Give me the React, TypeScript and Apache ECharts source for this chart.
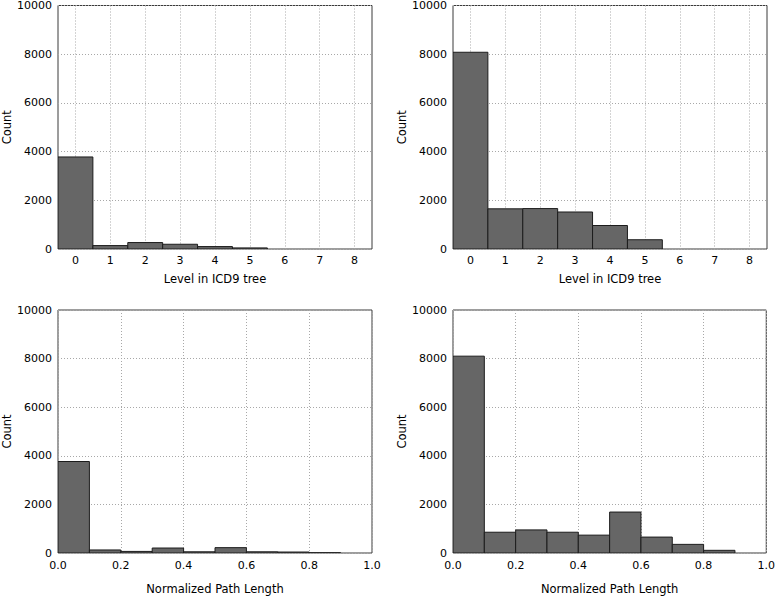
import React, { useEffect, useRef } from "react";
import * as echarts from "echarts";

// ---- data ----
const levels = [0, 1, 2, 3, 4, 5, 6, 7, 8];
const levelCountsLeft = [3780, 140, 265, 195, 100, 45, 0, 0, 0];
const levelCountsRight = [8080, 1650, 1660, 1520, 965, 380, 0, 0, 0];
const pathBinStarts = [0, 0.1, 0.2, 0.3, 0.4, 0.5, 0.6, 0.7, 0.8, 0.9];
const pathBinWidth = 0.1;
const pathCountsLeft = [3765, 125, 65, 205, 50, 220, 50, 40, 10, 0];
const pathCountsRight = [8100, 855, 950, 855, 735, 1685, 655, 355, 110, 0];
const yTicks = [0, 2000, 4000, 6000, 8000, 10000];
const levelAxisTitle = "Level in ICD9 tree";
const pathAxisTitle = "Normalized Path Length";
const countTitle = "Count";

const FONT = "DejaVu Sans";

const renderBar = (params: any, api: any) => {
  const x0 = api.value(0);
  const x1 = api.value(1);
  const y = api.value(2);
  if (!(y > 0)) return null;
  const p0 = api.coord([x0, y]);
  const p1 = api.coord([x1, 0]);
  return {
    type: "rect",
    shape: { x: p0[0], y: p0[1], width: p1[0] - p0[0], height: p1[1] - p0[1] },
    style: { fill: "#666666", stroke: "#1c1c1c", lineWidth: 1 },
  };
};

const grids = [
  { left: 58, top: 5, width: 314, height: 244 },
  { left: 453, top: 5, width: 314, height: 244 },
  { left: 58, top: 310, width: 314, height: 243 },
  { left: 453, top: 310, width: 315, height: 243 },
];

const splitLineStyle = { show: true, lineStyle: { color: "#a8a8a8", type: [1, 2] as any, width: 1 } };
const labelStyle = { color: "#000", fontFamily: FONT, fontSize: 11 };
const nameStyle = { color: "#000", fontFamily: FONT, fontSize: 11.5 };

export default function App() {
  const ref = useRef<HTMLDivElement>(null);
  useEffect(() => {
    if (!ref.current) return;
    const chart = echarts.init(ref.current, null, { renderer: "svg" });

    const xAxes: any[] = [];
    const yAxes: any[] = [];
    const series: any[] = [];

    grids.forEach((g, i) => {
      const isLevel = i < 2;
      if (isLevel) {
        xAxes.push({
          type: "value",
          gridIndex: i,
          min: -0.5,
          max: 8.5,
          axisLine: { show: false },
          axisTick: { show: false, customValues: levels },
          axisLabel: { ...labelStyle, margin: 6, customValues: levels, formatter: (v: number) => String(v) },
          splitLine: splitLineStyle,
          name: levelAxisTitle,
          nameLocation: "middle",
          nameGap: 24,
          nameTextStyle: nameStyle,
        });
      } else {
        xAxes.push({
          type: "value",
          gridIndex: i,
          min: 0,
          max: 1,
          interval: 0.2,
          axisLine: { show: false },
          axisTick: { show: false },
          axisLabel: { ...labelStyle, margin: 7, formatter: (v: number) => v.toFixed(1) },
          splitLine: splitLineStyle,
          name: pathAxisTitle,
          nameLocation: "middle",
          nameGap: 30,
          nameTextStyle: nameStyle,
        });
      }
      yAxes.push({
        type: "value",
        gridIndex: i,
        min: yTicks[0],
        max: yTicks[yTicks.length - 1],
        interval: yTicks[1] - yTicks[0],
        axisLine: { show: false },
        axisTick: { show: false },
        axisLabel: { ...labelStyle, margin: 6, formatter: (v: number) => String(v) },
        splitLine: splitLineStyle,
        name: countTitle,
        nameLocation: "middle",
        nameGap: 38,
        nameTextStyle: nameStyle,
      });

      let data: number[][];
      if (i === 0) data = levels.map((l, k) => [l - 0.5, l + 0.5, levelCountsLeft[k]]);
      else if (i === 1) data = levels.map((l, k) => [l - 0.5, l + 0.5, levelCountsRight[k]]);
      else if (i === 2) data = pathBinStarts.map((s, k) => [s, s + pathBinWidth, pathCountsLeft[k]]);
      else data = pathBinStarts.map((s, k) => [s, s + pathBinWidth, pathCountsRight[k]]);

      series.push({
        type: "custom",
        xAxisIndex: i,
        yAxisIndex: i,
        renderItem: renderBar,
        encode: { x: [0, 1], y: 2 },
        data,
        clip: true,
      });
    });

    chart.setOption({
      animation: false,
      backgroundColor: "#fff",
      textStyle: { fontFamily: FONT },
      grid: grids.map((g) => ({ ...g, show: true, borderColor: "#3a3a3a", borderWidth: 1, backgroundColor: "transparent" })),
      xAxis: xAxes,
      yAxis: yAxes,
      series,
    });

    return () => chart.dispose();
  }, []);

  return (
    <div
      ref={ref}
      style={{ position: "absolute", left: 0, top: 0, width: 778, height: 596, background: "#fff" }}
    />
  );
}
